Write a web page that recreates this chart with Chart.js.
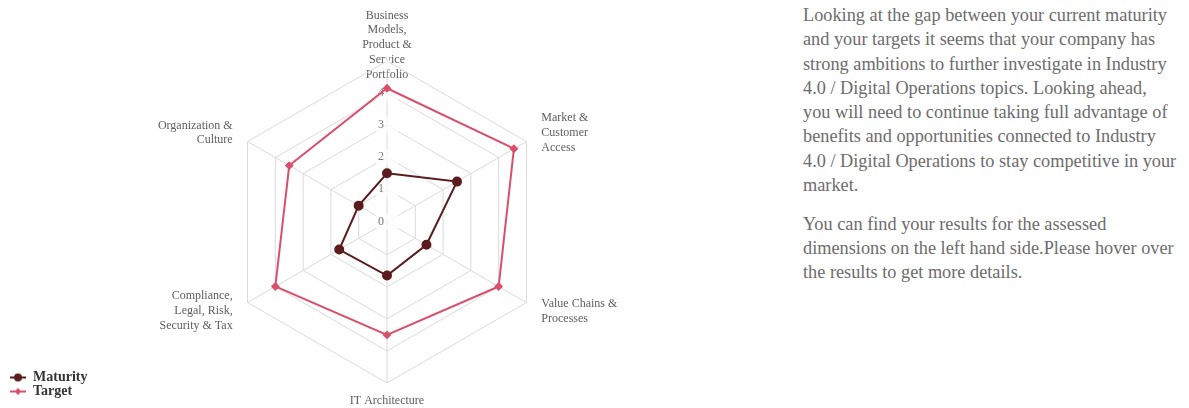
<!DOCTYPE html>
<html><head><meta charset="utf-8">
<script src="https://cdn.jsdelivr.net/npm/chart.js@4.4.1/dist/chart.umd.min.js"></script>
<style>
html,body{margin:0;padding:0;width:1189px;height:408px;overflow:hidden;background:#fff;}
#wrap{position:absolute;left:0;top:-5px;width:764px;height:428px;}
#txt{position:absolute;left:803px;top:3px;font-family:'Liberation Serif',serif;font-size:18.3px;line-height:24.3px;color:#6c6c6c;white-space:nowrap;}
#txt p{margin:0 0 14.5px 0;}
</style></head><body>
<div id="wrap"><canvas id="c" width="764" height="428"></canvas></div>
<div id="txt">
<p>Looking at the gap between your current maturity<br>and your targets it seems that your company has<br>strong ambitions to further investigate in Industry<br>4.0 / Digital Operations topics. Looking ahead,<br>you will need to continue taking full advantage of<br>benefits and opportunities connected to Industry<br>4.0 / Digital Operations to stay competitive in your<br>market.</p>
<p>You can find your results for the assessed<br>dimensions on the left hand side.Please hover over<br>the results to get more details.</p>
</div>
<script>
const categories = [
  ['Business', 'Models,', 'Product &', 'Service', 'Portfolio'],
  ['Market &', 'Customer', 'Access'],
  ['Value Chains &', 'Processes'],
  ['IT Architecture'],
  ['Compliance,', 'Legal, Risk,', 'Security & Tax'],
  ['Organization &', 'Culture']
];
const maturity = [1.5, 2.5, 1.4, 1.65, 1.7, 1.0];
const target = [4.15, 4.55, 4.0, 3.5, 4.0, 3.5];
const tickLabels = ['0', '1', '2', '3', '4'];
const seriesNames = ['Maturity', 'Target'];
const colors = ['#5a1c1c', '#d9506a'];
const labelPadding = [-28.8, 9.2, 9.2, 2.9, 9.2, 9.2];

const SERIF = "'Liberation Serif', 'DejaVu Serif', serif";

function legendIcon(color, style) {
  const c = document.createElement('canvas');
  c.width = 16; c.height = 10;
  const g = c.getContext('2d');
  g.strokeStyle = color; g.fillStyle = color; g.lineWidth = 2;
  g.beginPath(); g.moveTo(0, 5); g.lineTo(16, 5); g.stroke();
  g.beginPath();
  if (style === 'circle') { g.arc(8, 5, 4, 0, Math.PI * 2); }
  else { g.moveTo(8, 1.5); g.lineTo(11.5, 5); g.lineTo(8, 8.5); g.lineTo(4.5, 5); g.closePath(); }
  g.fill();
  return c;
}
const icons = [legendIcon(colors[0], 'circle'), legendIcon(colors[1], 'diamond')];

const centerSideLabels = {
  id: 'centerSideLabels',
  afterLayout(chart) {
    const s = chart.scales.r;
    (s._pointLabelItems || []).forEach(it => {
      if (!it || it.textAlign === 'center') return;
      const h = it.bottom - it.top;
      const shift = it.y < s.yCenter ? h / 2 : -h / 2;
      it.y += shift; it.top += shift; it.bottom += shift;
    });
  }
};

new Chart(document.getElementById('c'), {
  type: 'radar',
  data: {
    labels: categories,
    datasets: [
      { label: seriesNames[0], data: maturity, borderColor: colors[0], backgroundColor: colors[0],
        pointBackgroundColor: colors[0], pointBorderColor: colors[0], borderWidth: 2, pointRadius: 4,
        pointStyle: 'circle', fill: false, tension: 0 },
      { label: seriesNames[1], data: target, borderColor: colors[1], backgroundColor: colors[1],
        pointBackgroundColor: colors[1], pointBorderColor: colors[1], borderWidth: 2, pointRadius: 3,
        pointStyle: 'rectRot', fill: false, tension: 0 }
    ]
  },
  options: {
    responsive: false,
    animation: false,
    devicePixelRatio: 1,
    layout: { padding: { left: 10 } },
    scales: {
      r: {
        min: -0.02,
        max: 5,
        ticks: {
          stepSize: 1,
          font: { family: SERIF, size: 12 },
          color: '#7a7a7a',
          showLabelBackdrop: true,
          backdropColor: 'rgba(255,255,255,0.75)',
          backdropPadding: 2,
          callback: (v) => {
            const pad = '\u2002\u2002';
            if (v >= 4.5) return '';
            if (v < 0.5) return tickLabels[0] + pad;
            return (tickLabels[Math.round(v)] || '') + pad;
          }
        },
        grid: {
          color: (ctx) => (ctx.tick && ctx.tick.value <= 0) ? 'rgba(0,0,0,0)' : '#dadada',
          lineWidth: 1
        },
        angleLines: { color: '#dadada', lineWidth: 1 },
        pointLabels: {
          font: { family: SERIF, size: 12, lineHeight: 1.23 },
          color: '#5e5e5e',
          padding: (ctx) => labelPadding[ctx.index]
        }
      }
    },
    plugins: {
      tooltip: { enabled: false },
      legend: {
        position: 'chartArea',
        align: 'start',
        title: { display: true, text: ' ', color: 'rgba(0,0,0,0)', font: { size: 10, lineHeight: 1.2 }, padding: { top: 363.5, bottom: 0 } },
        labels: {
          usePointStyle: true,
          pointStyleWidth: 16,
          padding: 0,
          color: '#333',
          font: { family: SERIF, size: 14, weight: 'bold' },
          generateLabels: (chart) => {
            const items = Chart.defaults.plugins.legend.labels.generateLabels(chart);
            items.forEach((it, i) => { it.pointStyle = icons[i]; });
            return items;
          }
        }
      }
    }
  },
  plugins: [centerSideLabels]
});
</script>
</body></html>
